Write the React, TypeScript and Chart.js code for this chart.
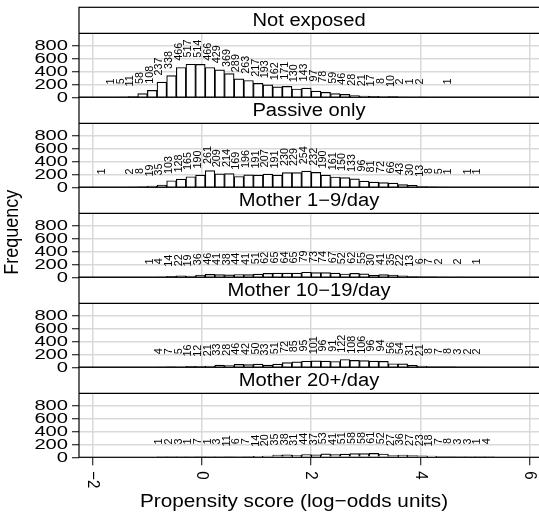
import React, { useEffect, useRef } from "react";
import { Chart, registerables } from "chart.js";

Chart.register(...registerables);

const FONT = '"Liberation Sans", Arial, Helvetica, sans-serif';

// Panels (top to bottom)
const panelTitles = ["Not exposed", "Passive only", "Mother 1−9/day", "Mother 10−19/day", "Mother 20+/day"];

// Histogram bins shared by all panels (log-odds units)
const binFirstEdge = -1.874;
const binWidth = 0.1762;

// Index of the first bin of each panel, and the counts from there (null = empty bin)
const notExposedFirstBin = 1;
const notExposedCounts = [1, 5, 11, 58, 108, 237, 338, 466, 517, 514, 466, 429, 369, 289, 263, 217, 193, 162, 171, 130, 143, 97, 78, 59, 46, 28, 21, 17, 8, 10, 2, 1, 2, null, null, 1];

const passiveFirstBin = 0;
const passiveCounts = [1, null, null, 2, 8, 19, 35, 103, 128, 165, 190, 261, 209, 214, 169, 196, 191, 207, 191, 230, 229, 254, 232, 190, 161, 150, 133, 96, 81, 72, 66, 43, 30, 13, 8, 5, 1, null, 1, 1];

const mother1to9FirstBin = 5;
const mother1to9Counts = [1, 4, 14, 22, 19, 36, 46, 41, 38, 44, 41, 51, 62, 65, 64, 65, 79, 73, 74, 67, 52, 62, 55, 30, 41, 35, 22, 13, 6, 7, 2, null, 2, null, 1];

const mother10to19FirstBin = 6;
const mother10to19Counts = [4, 7, 5, 16, 12, 21, 33, 28, 46, 42, 50, 33, 51, 72, 85, 95, 101, 96, 91, 122, 108, 106, 96, 94, 56, 54, 31, 21, 8, 7, 8, 3, 2, 2];

const mother20plusFirstBin = 6;
const mother20plusCounts = [1, 2, 3, 1, 7, 1, 3, 11, 6, 7, 14, 20, 35, 38, 31, 44, 37, 53, 41, 51, 58, 58, 61, 52, 27, 36, 27, 23, 18, 7, 8, 3, 3, 1, 4];

const panelFirstBins = [notExposedFirstBin, passiveFirstBin, mother1to9FirstBin, mother10to19FirstBin, mother20plusFirstBin];
const panelCounts = [notExposedCounts, passiveCounts, mother1to9Counts, mother10to19Counts, mother20plusCounts];

const yTickValues = [0, 200, 400, 600, 800];
const xTickValues = [-2, 0, 2, 4, 6];
const xMin = -2.243;
const xMax = 6.166;
const panelMax = 1000;
const slotSpan = 1406.25; // panel (0..1000) plus strip, in count units
const labelLift = 245; // label centre sits this many counts above the bar

const xTitle = "Propensity score (log−odds units)";
const yTitle = "Frequency";

const TEXT_STRETCH = 1.12; // text in the reference is slightly wider than tall

const fmt = (v: number) => (v < 0 ? "−" + Math.abs(v) : String(v));

function drawText(
  ctx: CanvasRenderingContext2D,
  text: string,
  x: number,
  y: number,
  size: number,
  align: CanvasTextAlign,
  baseline: CanvasTextBaseline,
  rot = 0,
  stretch = TEXT_STRETCH
) {
  ctx.save();
  ctx.translate(x, y);
  ctx.scale(stretch, 1);
  if (rot) ctx.rotate(rot);
  ctx.font = `${size}px ${FONT}`;
  ctx.textAlign = align;
  ctx.textBaseline = baseline;
  ctx.fillStyle = "#000";
  ctx.fillText(text, 0, 0);
  ctx.restore();
}

export default function App() {
  const ref = useRef<HTMLCanvasElement>(null);

  useEffect(() => {
    const canvas = ref.current;
    if (!canvas) return;
    const nP = panelTitles.length;

    const datasets = panelCounts.map((counts, p) => {
      const base = (nP - 1 - p) * slotSpan;
      const data: any[] = [];
      counts.forEach((c, i) => {
        if (c == null) return;
        const bin = panelFirstBins[p] + i;
        data.push({ x: binFirstEdge + (bin + 0.5) * binWidth, y: [base, base + c], count: c });
      });
      return {
        label: panelTitles[p],
        data,
        backgroundColor: "#ffffff",
        borderColor: "#000000",
        borderWidth: 1.2,
        borderSkipped: "start",
        grouped: false,
        barPercentage: 1,
        categoryPercentage: 1,
      };
    });

    const decor = {
      id: "decor",
      afterDatasetsDraw(chart: any) {
        const { ctx } = chart;
        const xs = chart.scales.x;
        const ys = chart.scales.y;
        chart.data.datasets.forEach((ds: any) => {
          ds.data.forEach((pt: any) => {
            const px = xs.getPixelForValue(pt.x);
            const py = ys.getPixelForValue(pt.y[1] + labelLift);
            drawText(ctx, String(pt.count), px + 0.5, py, 10.8, "center", "alphabetic", -Math.PI / 2, 1.05);
          });
        });
      },
      afterDraw(chart: any) {
        const { ctx, chartArea } = chart;
        const xs = chart.scales.x;
        const ys = chart.scales.y;
        const left = chartArea.left;
        const right = chartArea.right + 6;
        ctx.save();
        for (let p = 0; p < nP; p++) {
          const base = (nP - 1 - p) * slotSpan;
          const top = ys.getPixelForValue(base + slotSpan);
          const mid = ys.getPixelForValue(base + panelMax);
          const bot = ys.getPixelForValue(base);
          ctx.fillStyle = "#fff";
          ctx.fillRect(left, top, right - left, mid - top);
          ctx.strokeStyle = "#000";
          ctx.lineWidth = 1.2;
          ctx.strokeRect(left, top, right - left, bot - top);
          ctx.beginPath();
          ctx.moveTo(left, mid);
          ctx.lineTo(right, mid);
          ctx.stroke();
          drawText(ctx, panelTitles[p], (chartArea.left + chartArea.right) / 2, (top + mid) / 2 + 1, 18, "center", "middle");
          // y tick labels
          yTickValues.forEach((v) => {
            drawText(ctx, String(v), chartArea.left - 11, ys.getPixelForValue(base + v), 15.5, "right", "middle", 0, 1.3);
          });
        }
        // x tick labels (rotated)
        xTickValues.forEach((v) => {
          drawText(ctx, fmt(v), xs.getPixelForValue(v), chartArea.bottom + 14, 15, "left", "middle", Math.PI / 2);
        });
        // axis titles
        drawText(ctx, xTitle, 294, 507, 18.5, "center", "alphabetic");
        drawText(ctx, yTitle, 12, (chartArea.top + chartArea.bottom) / 2, 18, "center", "middle", -Math.PI / 2);
        ctx.restore();
      },
    };

    const chart = new Chart(canvas, {
      type: "bar",
      data: { datasets: datasets as any },
      options: {
        animation: false,
        responsive: false,
        events: [],
        layout: { padding: { top: 7.3, left: 0, right: 0, bottom: 0 } },
        plugins: { legend: { display: false }, tooltip: { enabled: false } },
        scales: {
          x: {
            type: "linear",
            min: xMin,
            max: xMax,
            offset: false,
            afterBuildTicks: (axis: any) => {
              axis.ticks = xTickValues.map((v) => ({ value: v }));
            },
            afterFit: (axis: any) => {
              axis.height = 513 - 457.3;
            },
            grid: {
              offset: false,
              color: "#d9d9d9",
              lineWidth: 1.5,
              drawTicks: true,
              tickLength: 8,
              tickColor: "#000",
              tickWidth: 1,
            },
            border: { display: false },
            ticks: { display: false },
          },
          y: {
            type: "linear",
            min: 0,
            max: nP * slotSpan,
            afterBuildTicks: (axis: any) => {
              const t: any[] = [];
              for (let p = 0; p < nP; p++) {
                const base = (nP - 1 - p) * slotSpan;
                yTickValues.forEach((v) => t.push({ value: base + v }));
              }
              t.sort((a, b) => a.value - b.value);
              axis.ticks = t;
            },
            afterFit: (axis: any) => {
              axis.width = 79;
            },
            grid: {
              color: (c: any) => (c.tick && c.tick.value % slotSpan === 0 ? "rgba(0,0,0,0)" : "#d9d9d9"),
              lineWidth: 1.5,
              drawTicks: true,
              tickLength: 7,
              tickColor: "#000",
              tickWidth: 1,
            },
            border: { display: false },
            ticks: { display: false, autoSkip: false },
          },
        },
      },
      plugins: [decor],
    });

    return () => chart.destroy();
  }, []);

  return (
    <div style={{ position: "fixed", left: 0, top: 0, width: 539, height: 513, background: "#fff" }}>
      <canvas ref={ref} width={539} height={513} style={{ display: "block" }} />
    </div>
  );
}
